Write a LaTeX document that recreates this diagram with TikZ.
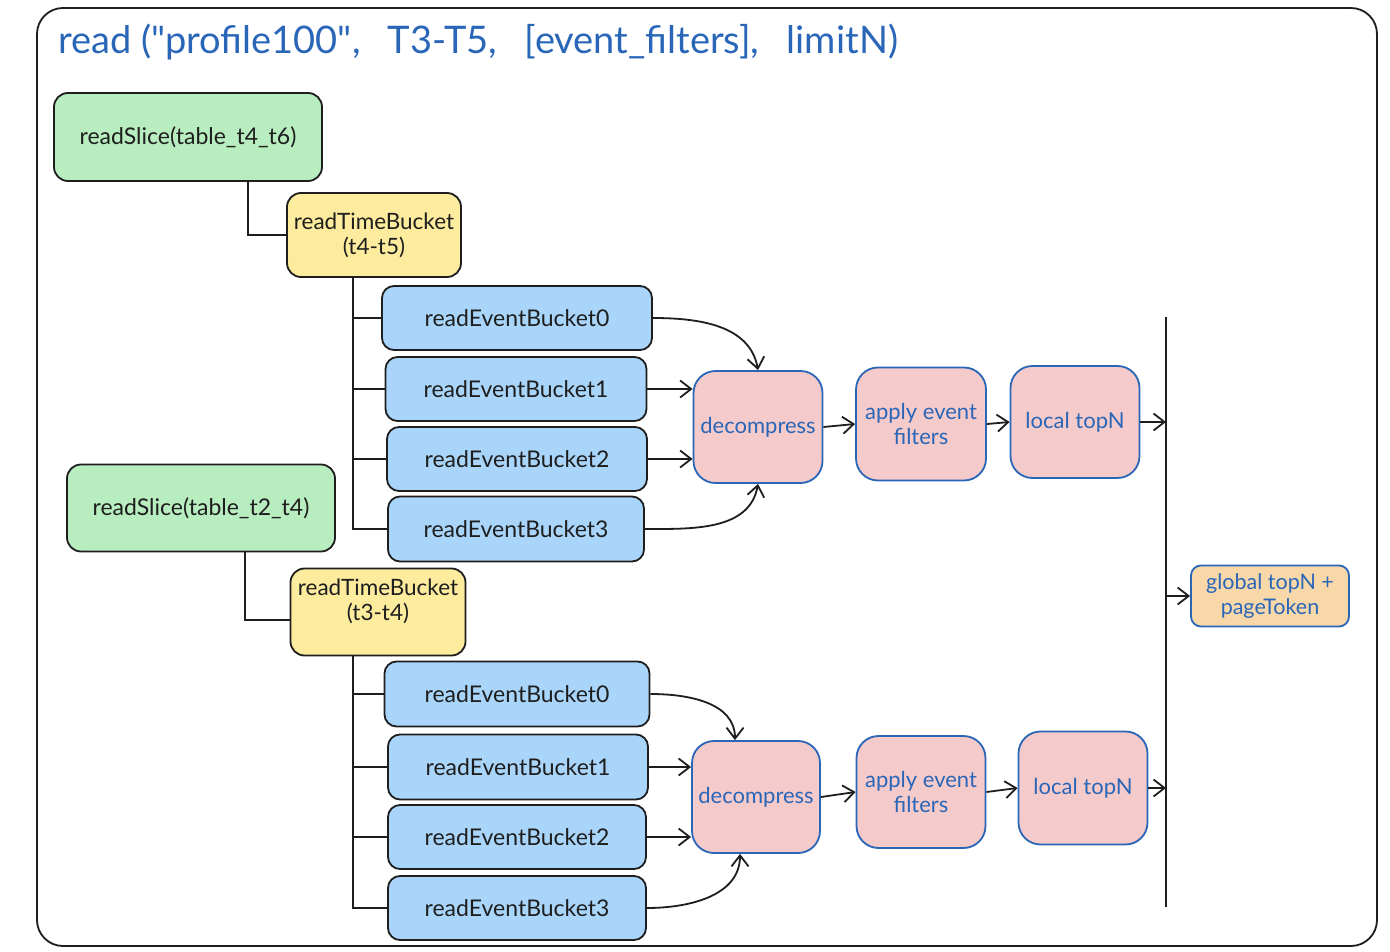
\documentclass[tikz,border=0pt]{standalone}
\usepackage{fontspec}
\setmainfont{Lato}
\usetikzlibrary{arrows.meta}
\definecolor{cgreen}{HTML}{B8EDC0}
\definecolor{cyellow}{HTML}{FDEB9E}
\definecolor{cblue}{HTML}{A9D5FA}
\definecolor{cpink}{HTML}{F5CACA}
\definecolor{cpeach}{HTML}{F8D8A9}
\definecolor{cstroke}{HTML}{2A66B8}
\definecolor{cink}{HTML}{1E1E1E}
\tikzset{
  box/.style={draw=cink, line width=1.8pt, rounded corners=14pt, align=center, inner sep=0pt, text=cink, font=\fontsize{23}{25}\selectfont},
  greenbox/.style={box, fill=cgreen},
  yellowbox/.style={box, fill=cyellow, font=\fontsize{22.5}{25}\selectfont},
  bluebox/.style={box, fill=cblue, rounded corners=12pt},
  pinkbox/.style={box, fill=cpink, draw=cstroke, text=cstroke, rounded corners=22pt, font=\fontsize{22}{25}\selectfont},
  peachbox/.style={box, fill=cpeach, draw=cstroke, text=cstroke, rounded corners=10pt, font=\fontsize{21.5}{25}\selectfont},
  conn/.style={draw=cink, line width=1.8pt},
  arr/.style={conn, -{Straight Barb[length=11pt,width=17pt,line width=1.8pt]}},
}
\newcommand{\tgap}{\hspace{0.72em}}
\begin{document}
\begin{tikzpicture}[x=1pt,y=-1pt]
\useasboundingbox (0,0) rectangle (1390,952);
\fill[white] (0,0) rectangle (1390,952);
% frame
\draw[conn, rounded corners=26pt] (37,8) rectangle (1377,946);
\node[anchor=west, text=cstroke, font=\fontsize{38}{42}\selectfont, inner sep=0pt] (title) at (58,42) {read (\textquotedbl profile100\textquotedbl,\tgap T3-T5,\tgap [event\_filters],\tgap limitN)};

% ---------- group 1 ----------
\node[greenbox, minimum width=268pt, minimum height=88pt] (gs1) at (188,137) {readSlice(table\_t4\_t6)};
\node[yellowbox, minimum width=174pt, minimum height=84pt] (tb1) at (374,235) {readTimeBucket\\(t4-t5)};
\node[bluebox, minimum width=270pt, minimum height=64pt] (a0) at (517,318) {readEventBucket0};
\node[bluebox, minimum width=261pt, minimum height=64pt] (a1) at (516,389) {readEventBucket1};
\node[bluebox, minimum width=260pt, minimum height=64pt] (a2) at (517,459) {readEventBucket2};
\node[bluebox, minimum width=256pt, minimum height=65pt] (a3) at (516,529) {readEventBucket3};
\node[pinkbox, minimum width=129pt, minimum height=112pt] (dec1) at (758,427) {decompress};
\node[pinkbox, minimum width=130pt, minimum height=113pt] (app1) at (921,424) {apply event\\filters};
\node[pinkbox, minimum width=129pt, minimum height=112pt] (top1) at (1075,422) {local topN};

\draw[conn] ([xshift=60pt]gs1.south) |- (tb1.west);
\coordinate (tr1) at ([xshift=-21pt]tb1.south);
\foreach \b in {a0,a1,a2,a3} { \draw[conn] (tr1) |- (\b.west); }

\draw[arr] (a0.east) to[out=0,in=100] (dec1.north);
\draw[arr] (a1.east) -- (dec1.west |- a1.east);
\draw[arr] (a2.east) -- (dec1.west |- a2.east);
\draw[arr] (a3.east) to[out=0,in=-100] (dec1.south);
\draw[arr] (dec1.east) -- (app1.west);
\draw[arr] (app1.east) -- (top1.west);

% ---------- group 2 ----------
\node[greenbox, minimum width=268pt, minimum height=87pt] (gs2) at (201,508) {readSlice(table\_t2\_t4)};
\node[yellowbox, minimum width=175pt, minimum height=87pt] (tb2) at (378,612) {readTimeBucket\\(t3-t4)\\[0pt]};
\node[bluebox, minimum width=265pt, minimum height=65pt] (c0) at (517,694) {readEventBucket0};
\node[bluebox, minimum width=260pt, minimum height=65pt] (c1) at (518,767) {readEventBucket1};
\node[bluebox, minimum width=258pt, minimum height=64pt] (c2) at (517,837) {readEventBucket2};
\node[bluebox, minimum width=258pt, minimum height=64pt] (c3) at (517,908) {readEventBucket3};
\node[pinkbox, minimum width=128pt, minimum height=112pt] (dec2) at (756,797) {decompress};
\node[pinkbox, minimum width=129pt, minimum height=112pt] (app2) at (921,792) {apply event\\filters};
\node[pinkbox, minimum width=129pt, minimum height=113pt] (top2) at (1083,788) {local topN};

\draw[conn] ([xshift=44pt]gs2.south) |- ([yshift=-8pt]tb2.west);
\coordinate (tr2) at ([xshift=-25pt]tb2.south);
\foreach \b in {c0,c1,c2,c3} { \draw[conn] (tr2) |- (\b.west); }

\draw[arr] (c0.east) to[out=0,in=90] ([xshift=-21pt]dec2.north);
\draw[arr] (c1.east) -- (dec2.west |- c1.east);
\draw[arr] (c2.east) -- (dec2.west |- c2.east);
\draw[arr] (c3.east) to[out=0,in=-90] ([xshift=-16pt]dec2.south);
\draw[arr] (dec2.east) -- (app2.west);
\draw[arr] (app2.east) -- (top2.west);

% ---------- merge ----------
\coordinate (vtop) at (1166,317);
\coordinate (vbot) at (1166,907);
\draw[conn] (vtop) -- (vbot);
\node[peachbox, minimum width=158pt, minimum height=61pt] (glob) at (1270,596) {global topN +\\pageToken};
\draw[arr] (top1.east) -- (top1.east -| vtop);
\draw[arr] (top2.east) -- (top2.east -| vtop);
\draw[arr] (glob.west -| vtop) -- (glob.west);
\end{tikzpicture}
\end{document}
